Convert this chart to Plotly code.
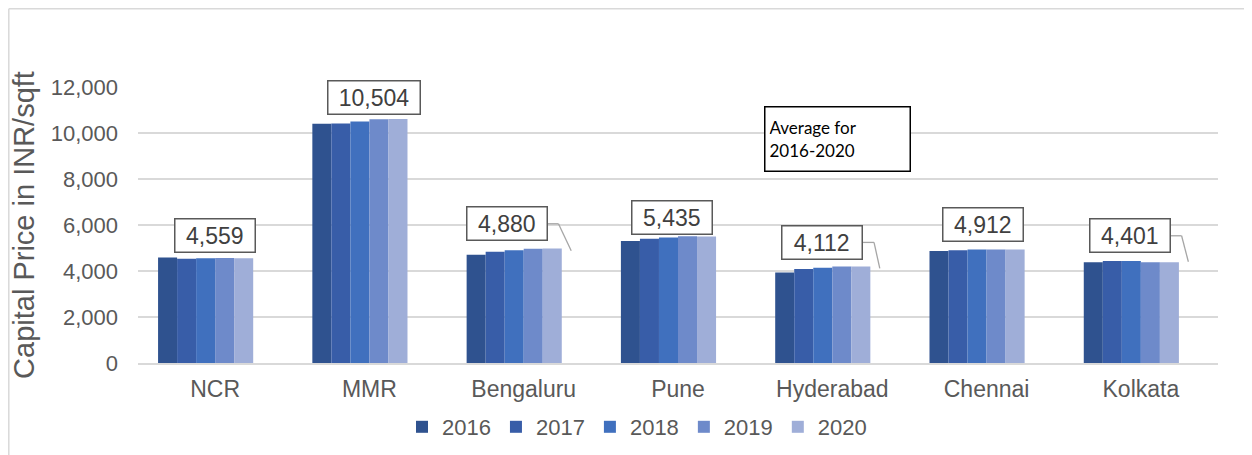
import plotly.graph_objects as go

# ---------------- data ----------------
cities = ["NCR", "MMR", "Bengaluru", "Pune", "Hyderabad", "Chennai", "Kolkata"]
years = ["2016", "2017", "2018", "2019", "2020"]
p2016 = [4590, 10400, 4710, 5300, 3930, 4870, 4380]
p2017 = [4530, 10410, 4840, 5400, 4090, 4900, 4430]
p2018 = [4550, 10500, 4900, 5460, 4140, 4930, 4430]
p2019 = [4570, 10600, 4970, 5510, 4200, 4930, 4385]
p2020 = [4555, 10610, 4980, 5505, 4200, 4930, 4380]
averages = [4559, 10504, 4880, 5435, 4112, 4912, 4401]
y_ticks = [0, 2000, 4000, 6000, 8000, 10000, 12000]
note_text = "Average for<br>2016-2020"

# ---------------- style ----------------
colors = ["#2F528F", "#385DA8", "#4070BE", "#6E8ACA", "#9FAED8"]
FONT = "Liberation Sans, Arial, sans-serif"
W, H = 1252, 455
OFF = 8  # page body margin offset
ML, MT = 138 - OFF, 87 - OFF
plot_w, plot_h = 1080, 276
MR = W - ML - plot_w
MB = H - MT - plot_h
y_max = 12000
px_per_cat = plot_w / len(cities)
px_per_val = plot_h / y_max


def px_x(page_x):
    return (page_x - OFF - ML) / plot_w


def px_y(page_y):
    return (MT + plot_h - (page_y - OFF)) / plot_h


# manual label box offsets (pixels) relative to (category centre, average value)
label_dx = [0, 5, -17, -6, -10, -4, -11]
label_dy = [23, 24, 27, 21, 26, 26, 26]
leader = [False, False, True, False, True, False, True]

fig = go.Figure()
series = [p2016, p2017, p2018, p2019, p2020]
for yr, vals, c in zip(years, series, colors):
    fig.add_trace(go.Bar(x=cities, y=vals, name=yr, marker=dict(color=c, line=dict(width=0))))
# hidden "average" series that carries the data labels (as in the source chart)
fig.add_trace(go.Bar(x=cities, y=averages, name="Average", showlegend=False,
                     marker=dict(color="rgba(0,0,0,0)", line=dict(width=0)), hoverinfo="skip"))

annotations = []
shapes = []
for i, (city, avg) in enumerate(zip(cities, averages)):
    txt = f"{avg:,}"
    bw = 12.5 * len(txt) + 12
    annotations.append(dict(
        x=i, y=avg, xref="x", yref="y", text=txt, showarrow=False,
        xshift=label_dx[i], yshift=label_dy[i],
        font=dict(family=FONT, size=23, color="#404040"),
        bordercolor="#595959", borderwidth=1.5, borderpad=2, bgcolor="white",
        width=bw, height=28, align="center", valign="middle"))
    if leader[i]:
        half = (bw + 7) / 2
        sx = i + (label_dx[i] + half) / px_per_cat
        sy = avg + label_dy[i] / px_per_val
        ex_elbow = i + (label_dx[i] + half + 11) / px_per_cat
        end_x = i + 47.5 / px_per_cat
        line_style = dict(color="#A6A6A6", width=1.3)
        shapes.append(dict(type="line", xref="x", yref="y", x0=sx, y0=sy, x1=ex_elbow, y1=sy, line=line_style))
        shapes.append(dict(type="line", xref="x", yref="y", x0=ex_elbow, y0=sy, x1=end_x, y1=avg, line=line_style))

# "Average for 2016-2020" note box
annotations.append(dict(
    x=px_x(837.5), y=px_y(139), xref="paper", yref="paper",
    text=note_text, showarrow=False, xanchor="center", yanchor="middle",
    font=dict(family="Lato, Carlito, sans-serif", size=17, color="black"),
    bordercolor="black", borderwidth=1.5, borderpad=4, bgcolor="white",
    width=136, height=55, align="left", valign="middle"))

# outer chart border (top and left visible)
bx0 = (0.8 - ML) / plot_w
by1 = 1 + (MT - 0.8) / plot_h
by0 = -MB / plot_h
bx1 = (W - ML) / plot_w
shapes.append(dict(type="line", xref="paper", yref="paper", x0=bx0, y0=by1, x1=bx1, y1=by1,
                   line=dict(color="#D9D9D9", width=1.5)))
shapes.append(dict(type="line", xref="paper", yref="paper", x0=bx0, y0=by1, x1=bx0, y1=by0,
                   line=dict(color="#D9D9D9", width=1.5)))

fig.update_layout(
    width=W, height=H, autosize=False,
    margin=dict(l=ML, r=MR, t=MT, b=MB, pad=0, autoexpand=False),
    paper_bgcolor="white", plot_bgcolor="white",
    barmode="group", bargap=0.26, bargroupgap=0,
    font=dict(family=FONT, color="#595959"),
    showlegend=True,
    legend=dict(orientation="h", x=px_x(402), xanchor="left",
                y=px_y(427), yanchor="middle",
                font=dict(family=FONT, size=22, color="#595959"),
                bgcolor="rgba(0,0,0,0)", traceorder="normal"),
    annotations=annotations,
    shapes=shapes,
    xaxis=dict(type="category", range=[-0.5, len(cities) - 0.5], automargin=False,
               showline=True, linecolor="#D9D9D9", linewidth=1.5,
               ticks="", tickfont=dict(family=FONT, size=23, color="#595959"),
               ticklabelstandoff=5, showgrid=False, fixedrange=True),
    yaxis=dict(range=[0, y_max], tickvals=y_ticks, tickformat=",", automargin=False,
               showgrid=True, gridcolor="#D9D9D9", gridwidth=1.5,
               zeroline=False, showline=False, ticks="",
               tickfont=dict(family=FONT, size=22, color="#595959"),
               ticklabelstandoff=19,
               title=dict(text="Capital Price in INR/sqft", standoff=9,
                          font=dict(family=FONT, size=29, color="#595959")),
               fixedrange=True),
)

fig.write_html("out.html")
